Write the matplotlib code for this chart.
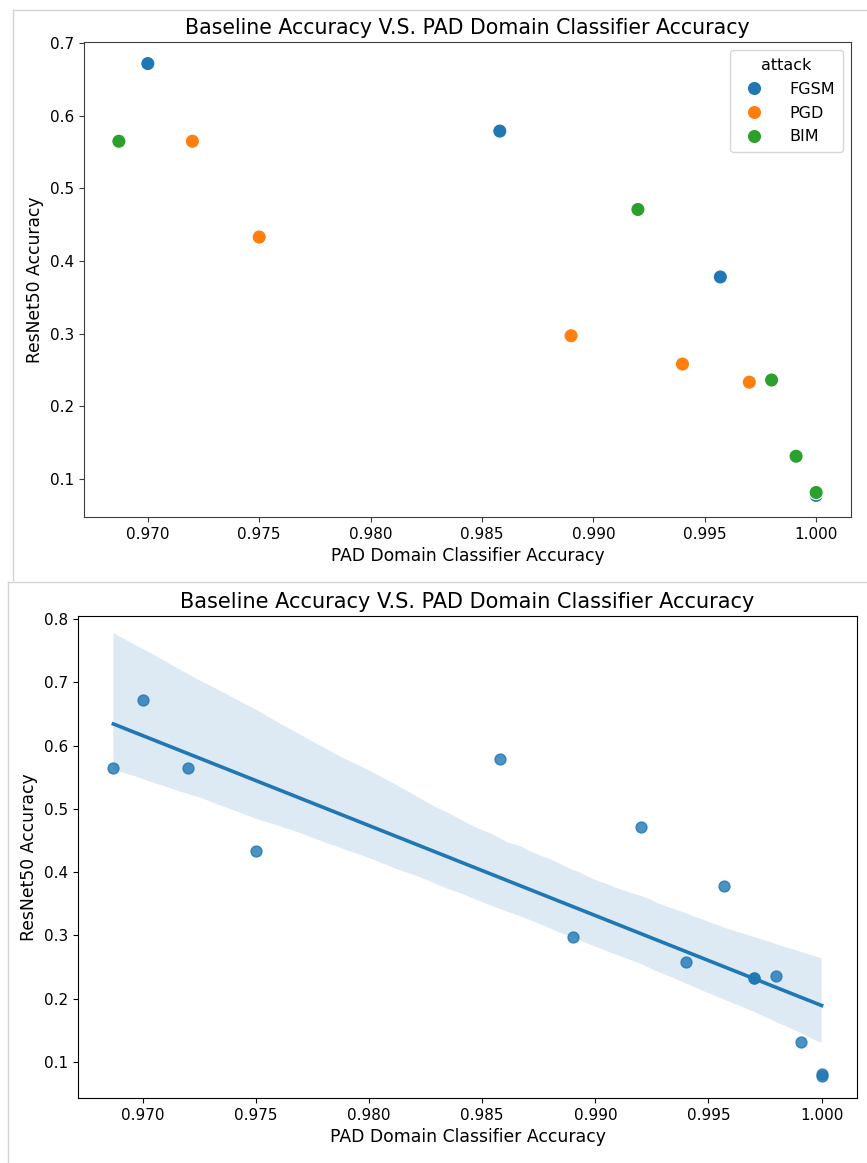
import numpy as np
import pandas as pd
import seaborn as sns
import matplotlib
matplotlib.use("Agg")
import matplotlib.pyplot as plt
from matplotlib.lines import Line2D

# values
attack = ["FGSM"] * 5 + ["PGD"] * 5 + ["BIM"] * 5
pad_acc = [0.9700, 0.9858, 0.9957, 0.9970, 1.0000,
           0.9720, 0.9750, 0.9890, 0.9940, 0.9970,
           0.9687, 0.9920, 0.9980, 0.9991, 1.0000]
resnet_acc = [0.672, 0.579, 0.378, 0.233, 0.077,
              0.565, 0.433, 0.297, 0.258, 0.233,
              0.565, 0.471, 0.236, 0.131, 0.081]

df = pd.DataFrame({"attack": attack,
                   "PAD Domain Classifier Accuracy": pad_acc,
                   "ResNet50 Accuracy": resnet_acc})

title = "Baseline Accuracy V.S. PAD Domain Classifier Accuracy"
W, H = 867, 1163
fig = plt.figure(figsize=(W / 100, H / 100), dpi=100)

# faint screenshot borders of the two stacked images
def px_line(x0, y0, x1, y1):
    fig.add_artist(Line2D([x0 / W, x1 / W], [1 - y0 / H, 1 - y1 / H],
                          transform=fig.transFigure, color="#d4d4d4", lw=1))

px_line(13, 10, 867, 10)
px_line(13, 10, 13, 580)
px_line(8, 582, 867, 582)
px_line(8, 582, 8, 1163)

# top: scatter coloured by attack
ax1 = fig.add_axes([84 / W, 1 - 517 / H, 767 / W, 475 / H])
sns.scatterplot(data=df, x="PAD Domain Classifier Accuracy", y="ResNet50 Accuracy",
                hue="attack", s=105, ax=ax1)
for sp in ax1.spines.values():
    sp.set_color("#3c3c3c")
ax1.tick_params(labelsize=11, colors="#3c3c3c", labelcolor="black")
ax1.set_xlabel("PAD Domain Classifier Accuracy", fontsize=12.3)
ax1.set_ylabel("ResNet50 Accuracy", fontsize=12.3)
ax1.set_title(title, fontsize=14.8)
leg = ax1.legend(title="attack", loc="upper right", fontsize=11.5, title_fontsize=11.5,
                 handletextpad=1.2, borderpad=0.5, labelspacing=0.55)

# bottom: regression with confidence band
ax2 = fig.add_axes([78 / W, 1 - 1098 / H, 779 / W, 482 / H])
sns.regplot(data=df, x="PAD Domain Classifier Accuracy", y="ResNet50 Accuracy",
            ax=ax2, seed=11, scatter_kws={"s": 62}, line_kws={"lw": 2.6})
ax2.set_ylim(0.043, 0.805)
ax2.tick_params(labelsize=11)
ax2.set_xlabel("PAD Domain Classifier Accuracy", fontsize=12.4)
ax2.set_ylabel("ResNet50 Accuracy", fontsize=12.4)
ax2.set_title(title, fontsize=15)

fig.savefig("out.png", dpi=100)
